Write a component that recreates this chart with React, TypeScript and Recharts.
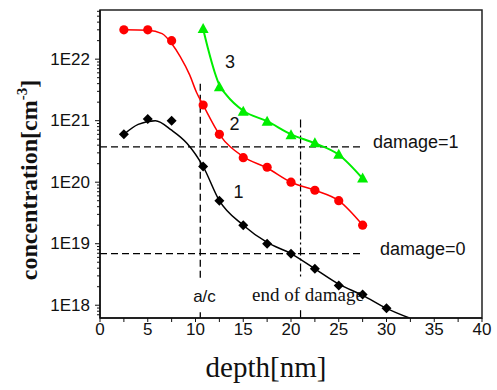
import React from 'react';
import {
  ComposedChart, Line, Scatter, XAxis, YAxis, ReferenceLine, ReferenceArea,
} from 'recharts';

// ---------- data ----------
const DEPTH_1 = [2.5, 5, 7.5, 10.8, 12.5, 15, 17.5, 20, 22.5, 25, 27.5, 30];
const CONC_1 = [6.0e20, 1.07e21, 1.0e21, 1.8e20, 5.0e19, 2.0e19, 1.0e19, 6.9e18, 3.9e18, 2.1e18, 1.5e18, 8.9e17];

const DEPTH_2 = [2.5, 5, 7.5, 10.8, 12.5, 15, 17.5, 20, 22.5, 25, 27.5];
const CONC_2 = [3.0e22, 3.0e22, 2.0e22, 1.8e21, 6.0e20, 2.5e20, 1.75e20, 1.0e20, 7.4e19, 5.0e19, 2.0e19];

const DEPTH_3 = [10.8, 12.5, 15, 17.5, 20, 22.5, 25, 27.5];
const CONC_3 = [3.1e22, 3.5e21, 1.4e21, 9.6e20, 5.8e20, 4.3e20, 2.8e20, 1.15e20];

// fitted curves (knots)
const FIT1_X = [2.5, 4, 5.8, 7.5, 9.1, 10.8, 12.5, 15, 17.5, 20, 22.5, 25, 27.5, 30, 32.4];
const FIT1_Y = [6.0e20, 8.7e20, 1.0e21, 7.0e20, 4.3e20, 1.8e20, 5.0e19, 2.0e19, 1.05e19, 6.9e18, 3.9e18, 2.2e18, 1.45e18, 8.9e17, 6.2e17];

const FIT2_X = [2.5, 5, 6.5, 7.5, 8.4, 9.4, 10.1, 10.8, 12.5, 15, 17.5, 20, 22.5, 25, 27.5];
const FIT2_Y = [3.0e22, 2.95e22, 2.6e22, 1.8e22, 1.1e22, 5.5e21, 2.9e21, 1.8e21, 6.0e20, 2.6e20, 1.7e20, 1.0e20, 7.4e19, 5.0e19, 2.0e19];

const FIT3_X = [10.8, 11.3, 12.0, 12.5, 13.25, 15, 17.5, 20, 22.5, 25, 27.5];
const FIT3_Y = [3.1e22, 1.5e22, 6.2e21, 3.8e21, 2.6e21, 1.45e21, 9.8e20, 6.0e20, 4.3e20, 2.8e20, 1.15e20];

// reference levels
const DAMAGE_LEVELS = [3.75e20, 6.9e18]; // damage=1, damage=0
const DAMAGE_END_X = 27.4;
const AC_DEPTH = 10.5;
const AC_TOP = 4e21;
const END_DEPTH = 21;
const END_TOP = 1.05e21;
const GAP_TOP = 2.75e18;      // lines interrupted by the labels
const GAP_BOTTOM_AC = 7.7e17;
const GAP_BOTTOM_END = 8.3e17;

// axes
const X_DOMAIN = [0, 40];
const X_TICKS = [0, 2.5, 5, 7.5, 10, 12.5, 15, 17.5, 20, 22.5, 25, 27.5, 30, 32.5, 35, 37.5, 40];
const Y_MIN = 6.2e17;
const Y_MAX = 6.3e22;
const Y_MAJOR = [1e18, 1e19, 1e20, 1e21, 1e22];
const Y_MINOR_MULT = [2, 3, 4, 5, 6, 7, 8, 9];
const Y_TICKS = [
  ...[7e17, 8e17, 9e17],
  ...Y_MAJOR.flatMap((m) => [m, ...Y_MINOR_MULT.map((k) => k * m)]),
].filter((v) => v >= Y_MIN && v <= Y_MAX);

const zip = (xs: number[], ys: number[]) => xs.map((x, i) => ({ x, y: ys[i] }));

const pts1 = zip(DEPTH_1, CONC_1);
const pts2 = zip(DEPTH_2, CONC_2);
const pts3 = zip(DEPTH_3, CONC_3);
const fit1 = zip(FIT1_X, FIT1_Y);
const fit2 = zip(FIT2_X, FIT2_Y);
const fit3 = zip(FIT3_X, FIT3_Y);

const SANS = '"Liberation Sans", Arial, sans-serif';
const SERIF = '"Liberation Serif", "Times New Roman", serif';

const Diamond = (p: any) => {
  const { cx, cy } = p;
  const r = 5;
  return <path d={`M${cx},${cy - r}L${cx + r},${cy}L${cx},${cy + r}L${cx - r},${cy}Z`} fill="#000" />;
};
const Circle = (p: any) => <circle cx={p.cx} cy={p.cy} r={4.6} fill="#ff0000" />;
const Tri = (p: any) => {
  const { cx, cy } = p;
  return <path d={`M${cx},${cy - 6}L${cx + 5.5},${cy + 4}L${cx - 5.5},${cy + 4}Z`} fill="#00ee00" />;
};

const TICK_SIZE = 5;
const TICK_MARGIN = 5;

const YTick = (p: any) => {
  const { x, y, payload } = p;
  const v = payload.value;
  const exp = Math.round(Math.log10(v));
  const isMajor = Math.abs(v - Math.pow(10, exp)) / v < 1e-6;
  const axisX = x + TICK_SIZE + TICK_MARGIN;
  const len = isMajor ? 5 : 3;
  return (
    <g>
      <line x1={axisX - len} x2={axisX} y1={y} y2={y} stroke="#111" strokeWidth={1} />
      {isMajor && (
        <text x={x} y={y} textAnchor="end" dominantBaseline="central" fontFamily={SANS} fontSize={17} fill="#111">
          {`1E${exp}`}
        </text>
      )}
    </g>
  );
};

export default function App() {
  return (
    <div style={{ position: 'absolute', left: 0, top: 0, width: 497, height: 390, background: '#fff' }}>
      <ComposedChart width={497} height={390} margin={{ top: 10, right: 15, bottom: 0, left: 0 }}>
        <XAxis
          type="number"
          dataKey="x"
          domain={X_DOMAIN}
          ticks={X_TICKS}
          allowDataOverflow
          interval={0}
          height={72}
          tickSize={4}
          tickMargin={1}
          tickFormatter={(v: number) => (v % 5 === 0 ? String(v) : '')}
          tick={{ fontFamily: SANS, fontSize: 17, fill: '#111' }}
          axisLine={{ stroke: '#111', strokeWidth: 1.5 }}
          tickLine={{ stroke: '#111' }}
        />
        <YAxis
          type="number"
          dataKey="y"
          scale="log"
          domain={[Y_MIN, Y_MAX]}
          allowDataOverflow
          ticks={Y_TICKS}
          interval={0}
          width={100}
          tickSize={TICK_SIZE}
          tickMargin={TICK_MARGIN}
          tickLine={false}
          tick={<YTick />}
          axisLine={{ stroke: '#111', strokeWidth: 1.5 }}
        />
        <ReferenceArea x1={X_DOMAIN[0]} x2={X_DOMAIN[1]} y1={Y_MIN} y2={Y_MAX} fill="none" stroke="#222" strokeWidth={1.5} />

        {DAMAGE_LEVELS.map((lv, i) => (
          <ReferenceLine
            key={i}
            segment={[{ x: X_DOMAIN[0], y: lv }, { x: DAMAGE_END_X, y: lv }]}
            stroke="#000"
            strokeWidth={1.3}
            strokeDasharray="7 4"
          />
        ))}
        <ReferenceLine segment={[{ x: AC_DEPTH, y: AC_TOP }, { x: AC_DEPTH, y: GAP_TOP }]} stroke="#000" strokeWidth={1.3} strokeDasharray="7 4" />
        <ReferenceLine segment={[{ x: AC_DEPTH, y: GAP_BOTTOM_AC }, { x: AC_DEPTH, y: Y_MIN }]} stroke="#000" strokeWidth={1.3} />
        <ReferenceLine segment={[{ x: END_DEPTH, y: END_TOP }, { x: END_DEPTH, y: GAP_TOP }]} stroke="#000" strokeWidth={1.2} strokeDasharray="8 3 2 3" />
        <ReferenceLine segment={[{ x: END_DEPTH, y: GAP_BOTTOM_END }, { x: END_DEPTH, y: Y_MIN }]} stroke="#000" strokeWidth={1.2} />

        <Line data={fit1} dataKey="y" type="monotone" stroke="#000" strokeWidth={1.5} dot={false} isAnimationActive={false} />
        <Line data={fit2} dataKey="y" type="monotone" stroke="#ff0000" strokeWidth={1.5} dot={false} isAnimationActive={false} />
        <Line data={fit3} dataKey="y" type="monotone" stroke="#00ee00" strokeWidth={2} dot={false} isAnimationActive={false} />

        <Scatter data={pts1} dataKey="y" shape={Diamond} isAnimationActive={false} />
        <Scatter data={pts2} dataKey="y" shape={Circle} isAnimationActive={false} />
        <Scatter data={pts3} dataKey="y" shape={Tri} isAnimationActive={false} />
      </ComposedChart>

      <svg width={497} height={390} style={{ position: 'absolute', left: 0, top: 0, pointerEvents: 'none' }}>
        <text x={230} y={68} textAnchor="middle" fontFamily={SANS} fontSize={18} fill="#111">3</text>
        <text x={234.5} y={130} textAnchor="middle" fontFamily={SANS} fontSize={18} fill="#111">2</text>
        <text x={238.5} y={198} textAnchor="middle" fontFamily={SANS} fontSize={18} fill="#111">1</text>
        <text x={373} y={148} fontFamily={SANS} fontSize={18} fill="#111">damage=1</text>
        <text x={380} y={255} fontFamily={SANS} fontSize={18} fill="#111">damage=0</text>
        <text x={204.5} y={301.5} textAnchor="middle" fontFamily={SANS} fontSize={17} fill="#111">a/c</text>
        <text x={308} y={300.5} textAnchor="middle" fontFamily={SERIF} fontSize={19} fill="#111">end of damage</text>
        <text x={266} y={377} textAnchor="middle" fontFamily={SERIF} fontSize={29} fill="#111">depth[nm]</text>
        <text
          x={37}
          y={180}
          textAnchor="middle"
          transform="rotate(-90, 37, 180)"
          fontFamily={SERIF}
          fontWeight="bold"
          fontSize={24}
          fill="#111"
        >
          <tspan>concentration[cm</tspan>
          <tspan dy={-10} fontSize={15}>-3</tspan>
          <tspan dy={10}>]</tspan>
        </text>
      </svg>
    </div>
  );
}
